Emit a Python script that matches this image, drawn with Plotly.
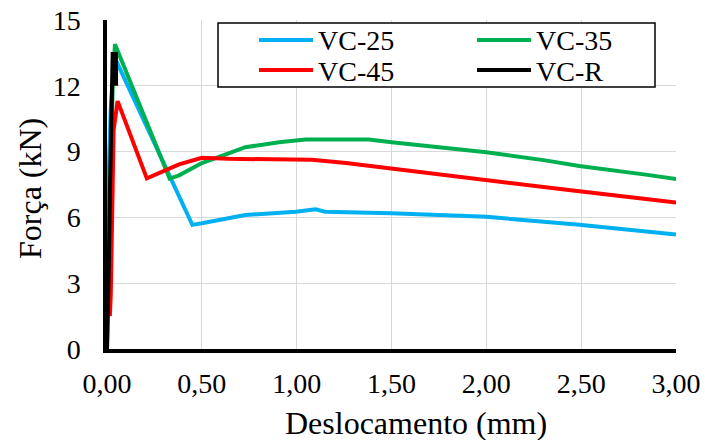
import plotly.graph_objects as go

# ---- data ----
vc25_x = [0, 0.005, 0.02, 0.04, 0.45, 0.50, 0.73, 0.995, 1.10, 1.15, 1.50, 2.00, 2.49, 3.00]
vc25_y = [0, 6.8, 11.0, 13.3, 5.66, 5.73, 6.11, 6.26, 6.37, 6.26, 6.19, 6.03, 5.66, 5.22]

vc35_x = [0, 0.01, 0.02, 0.03, 0.042, 0.33, 0.38, 0.50, 0.73, 0.907, 1.047, 1.38, 1.50, 1.87, 2.00, 2.31, 2.49, 2.84, 3.00]
vc35_y = [0, 4.0, 8.0, 12.0, 13.9, 7.77, 7.92, 8.48, 9.20, 9.43, 9.55, 9.55, 9.43, 9.12, 8.97, 8.60, 8.34, 7.95, 7.75]

vc45_x = [0.015, 0.02, 0.025, 0.03, 0.035, 0.056, 0.21, 0.38, 0.50, 0.64, 1.08, 1.26, 1.50, 2.00, 2.49, 3.00]
vc45_y = [1.5, 2.5, 5.0, 8.0, 10.0, 11.3, 7.78, 8.42, 8.72, 8.67, 8.63, 8.48, 8.22, 7.69, 7.19, 6.68]

vcr_x = [0, 0.005, 0.01, 0.015, 0.02, 0.025, 0.03, 0.047, 0.048]
vcr_y = [0, 1.5, 4.0, 7.0, 10.0, 12.5, 13.45, 13.45, 12.0]

series_names = ["VC-25", "VC-35", "VC-45", "VC-R"]
series_colors = ["#00B0F0", "#00B050", "#FF0000", "#000000"]

x_ticks = [0, 0.5, 1.0, 1.5, 2.0, 2.5, 3.0]
y_ticks = [0, 3, 6, 9, 12, 15]

FONT = "Liberation Serif, Times New Roman, serif"

W, H = 705, 440
L, R, T, B = 107, 676, 20, 349


def px(xp):
    return (xp - L) / (R - L)


def py(yp):
    return 1 - (yp - T) / (B - T)


fig = go.Figure()
for name, color, xs, ys in zip(series_names, series_colors,
                               [vc25_x, vc35_x, vc45_x, vcr_x],
                               [vc25_y, vc35_y, vc45_y, vcr_y]):
    fig.add_trace(go.Scatter(x=xs, y=ys, mode="lines", name=name,
                             line=dict(color=color, width=4), showlegend=False))

fig.update_layout(
    width=W, height=H,
    margin=dict(l=L, r=W - R, t=T, b=H - B),
    paper_bgcolor="white", plot_bgcolor="white",
    separators=",.",
    font=dict(family=FONT, size=28, color="black"),
    showlegend=False,
)

fig.update_xaxes(
    range=[0, 3], tickvals=x_ticks, tickformat=".2f",
    showgrid=True, gridcolor="#D9D9D9", gridwidth=1,
    showline=True, linecolor="black", linewidth=3.5,
    ticks="", ticklabelstandoff=7, automargin=False,
    tickfont=dict(family=FONT, size=28, color="black"),
    zeroline=False,
)
fig.update_yaxes(
    range=[0, 15], tickvals=y_ticks,
    showgrid=True, gridcolor="#D9D9D9", gridwidth=1,
    showline=True, linecolor="black", linewidth=3.5,
    ticks="", ticklabelstandoff=17, automargin=False,
    tickfont=dict(family=FONT, size=28, color="black"),
    zeroline=False,
)

# axis titles
fig.add_annotation(
    text="Força (kN)", textangle=-90,
    xref="paper", yref="paper", x=px(30), y=py(189),
    xanchor="center", yanchor="middle", showarrow=False,
    font=dict(family=FONT, size=32, color="black"),
)
fig.add_annotation(
    text="Deslocamento (mm)",
    xref="paper", yref="paper", x=px(416), y=py(423),
    xanchor="center", yanchor="middle", showarrow=False,
    font=dict(family=FONT, size=32, color="black"),
)

# legend (drawn box, 2 columns)
fig.add_shape(type="rect", xref="paper", yref="paper",
              x0=px(218), x1=px(655), y0=py(87), y1=py(23),
              line=dict(color="black", width=1.5), fillcolor="white", layer="above")
leg_pos = [(259, 40), (477, 40), (259, 70), (477, 70)]
for name, color, (lx, ly) in zip(series_names, series_colors, leg_pos):
    fig.add_shape(type="line", xref="paper", yref="paper",
                  x0=px(lx), x1=px(lx + 54), y0=py(ly), y1=py(ly),
                  line=dict(color=color, width=4), layer="above")
    fig.add_annotation(
        text=name, xref="paper", yref="paper", x=px(lx + 57), y=py(ly + 1),
        xanchor="left", yanchor="middle", showarrow=False,
        font=dict(family=FONT, size=28, color="black"),
    )

fig.write_html("out.html", config={"displayModeBar": False},
               post_script="document.body.style.margin='0px';document.body.style.overflow='hidden';")
